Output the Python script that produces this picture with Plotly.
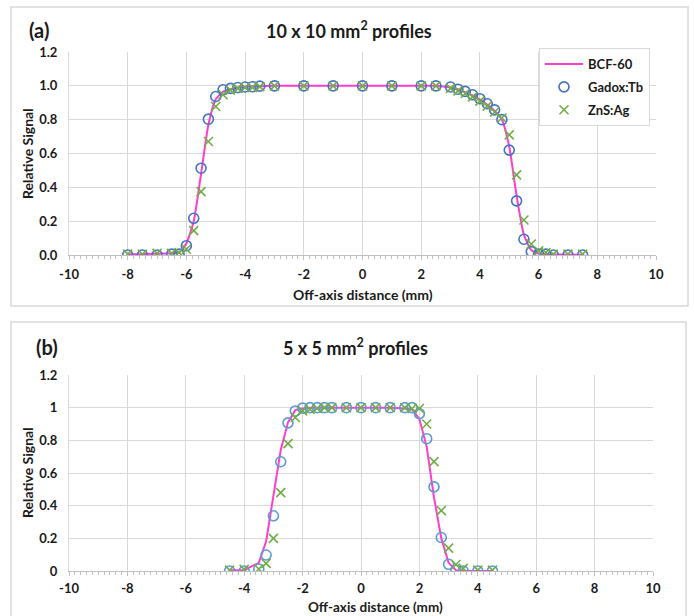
import plotly.graph_objects as go

# ---------------- Panel (a): 10 x 10 mm^2 ----------------
a_bcf_x = [-8, -7.5, -7, -6.5, -6.25, -6, -5.75, -5.5, -5.25, -5, -4.75, -4.5, -4.25, -4, -3.75, -3.5,
           -3, -2, -1, 0, 1, 2, 2.5, 3, 3.25, 3.5, 3.75, 4, 4.25, 4.5, 4.75, 5, 5.25, 5.5, 5.75,
           6, 6.25, 6.5, 7, 7.5]
a_bcf_y = [0.005, 0.005, 0.008, 0.01, 0.015, 0.07, 0.2, 0.48, 0.77, 0.92, 0.965, 0.98, 0.99, 0.995, 0.997, 0.998,
           1.0, 1.0, 1.0, 1.0, 1.0, 1.0, 1.0, 0.99, 0.98, 0.963, 0.943, 0.918, 0.888, 0.853, 0.80, 0.64, 0.35, 0.12, 0.03,
           0.008, 0.005, 0.003, 0.002, 0.002]

a_gadox_x = [-8, -7.5, -7, -6.5, -6.25, -6, -5.75, -5.5, -5.25, -5, -4.75, -4.5, -4.25, -4, -3.75, -3.5,
             -3, -2, -1, 0, 1, 2, 2.5, 3, 3.25, 3.5, 3.75, 4, 4.25, 4.5, 4.75, 5, 5.25, 5.5, 5.75,
             6, 6.25, 6.5, 7, 7.5]
a_gadox_y = [0.0, 0.0, 0.0, 0.005, 0.005, 0.055, 0.217, 0.513, 0.803, 0.937, 0.977, 0.985, 0.99, 0.993, 0.995, 0.998,
             1.0, 1.0, 1.0, 1.0, 1.0, 1.0, 1.0, 0.993, 0.98, 0.967, 0.947, 0.924, 0.894, 0.858, 0.80, 0.62, 0.32, 0.093, 0.02,
             0.005, 0.005, 0.0, 0.0, 0.0]

a_zns_x = [-8, -7.5, -7, -6.5, -6.25, -6, -5.75, -5.5, -5.25, -5, -4.75, -4.5, -4.25, -4, -3.75, -3.5,
           -3, -2, -1, 0, 1, 2, 2.5, 3, 3.25, 3.5, 3.75, 4, 4.25, 4.5, 4.75, 5, 5.25, 5.5, 5.75,
           6, 6.25, 6.5, 7, 7.5]
a_zns_y = [0.005, 0.005, 0.01, 0.01, 0.015, 0.034, 0.144, 0.375, 0.671, 0.878, 0.947, 0.975, 0.985, 0.99, 0.99, 0.995,
           1.0, 1.0, 1.0, 1.0, 1.0, 1.0, 1.0, 0.985, 0.97, 0.955, 0.935, 0.91, 0.88, 0.845, 0.81, 0.71, 0.474, 0.207, 0.065,
           0.025, 0.015, 0.005, 0.005, 0.005]

# ---------------- Panel (b): 5 x 5 mm^2 ----------------
b_bcf_x = [-4.5, -4, -3.5, -3.25, -3, -2.75, -2.5, -2.25, -2, -1.75, -1.5, -1.25, -1, -0.5, 0, 0.5, 1, 1.5, 1.75,
           2, 2.25, 2.5, 2.75, 3, 3.25, 3.5, 4, 4.5]
b_bcf_y = [0.005, 0.005, 0.05, 0.18, 0.46, 0.74, 0.91, 0.985, 0.995, 1.0, 1.0, 1.0, 1.0, 1.0, 1.0, 1.0, 1.0, 0.995, 0.99,
           0.93, 0.76, 0.45, 0.2, 0.05, 0.005, 0.002, 0.0, 0.0]

b_gadox_x = [-4.5, -4, -3.5, -3.25, -3, -2.75, -2.5, -2.25, -2, -1.75, -1.5, -1.25, -1, -0.5, 0, 0.5, 1, 1.5, 1.75,
             2, 2.25, 2.5, 2.75, 3, 3.25, 3.5, 4, 4.5]
b_gadox_y = [0.0, 0.0, 0.012, 0.098, 0.338, 0.669, 0.907, 0.98, 0.997, 1.0, 1.0, 1.0, 1.0, 1.0, 1.0, 1.0, 1.0, 1.0, 1.0,
             0.964, 0.81, 0.515, 0.205, 0.041, 0.006, 0.0, 0.0, 0.0]

b_zns_x = [-4.5, -4, -3.5, -3.25, -3, -2.75, -2.5, -2.25, -2, -1.75, -1.5, -1.25, -1, -0.5, 0, 0.5, 1, 1.5, 1.75,
           2, 2.25, 2.5, 2.75, 3, 3.25, 3.5, 4, 4.5]
b_zns_y = [0.005, 0.01, 0.012, 0.047, 0.2, 0.48, 0.78, 0.94, 0.98, 0.99, 0.995, 1.0, 1.0, 1.0, 1.0, 1.0, 1.0, 1.0, 0.995,
           0.995, 0.9, 0.67, 0.37, 0.14, 0.04, 0.016, 0.005, 0.005]

x_ticks = [-10, -8, -6, -4, -2, 0, 2, 4, 6, 8, 10]
x_tick_labels = ["-10", "-8", "-6", "-4", "-2", "0", "2", "4", "6", "8", "10"]

PINK = "#ff3fcb"
BLUE_A = "#4472c4"
BLUE_B = "#5b9bd5"
GREEN = "#70ad47"
GRID = "#d9d9d9"
FONT = "Lato"
TXT = "#1a1a1a"

W, H = 694, 616
def px(x):
    return x / W
def py(y):
    return 1 - y / H

fig = go.Figure()

fig.add_trace(go.Scatter(x=a_bcf_x, y=a_bcf_y, mode="lines", name="BCF-60",
                         line=dict(color=PINK, width=2, shape="spline", smoothing=0.6),
                         xaxis="x", yaxis="y", legendgroup="g1"))
fig.add_trace(go.Scatter(x=a_gadox_x, y=a_gadox_y, mode="markers", name="Gadox:Tb",
                         marker=dict(symbol="circle-open", size=10, color=BLUE_A, line=dict(width=1.6)),
                         xaxis="x", yaxis="y", legendgroup="g2"))
fig.add_trace(go.Scatter(x=a_zns_x, y=a_zns_y, mode="markers", name="ZnS:Ag",
                         marker=dict(symbol="x-thin-open", size=9, color=GREEN, line=dict(width=1.6, color=GREEN)),
                         xaxis="x", yaxis="y", legendgroup="g3"))

fig.add_trace(go.Scatter(x=b_bcf_x, y=b_bcf_y, mode="lines", name="BCF-60", showlegend=False,
                         line=dict(color=PINK, width=2),
                         xaxis="x2", yaxis="y2"))
fig.add_trace(go.Scatter(x=b_gadox_x, y=b_gadox_y, mode="markers", name="Gadox:Tb", showlegend=False,
                         marker=dict(symbol="circle-open", size=10, color=BLUE_B, line=dict(width=1.6)),
                         xaxis="x2", yaxis="y2"))
fig.add_trace(go.Scatter(x=b_zns_x, y=b_zns_y, mode="markers", name="ZnS:Ag", showlegend=False,
                         marker=dict(symbol="x-thin-open", size=9, color=GREEN, line=dict(width=1.6, color=GREEN)),
                         xaxis="x2", yaxis="y2"))

tickfont = dict(family=FONT, size=13, color=TXT, weight="bold")

def xaxis_cfg(domain, anchor, standoff):
    return dict(domain=domain, anchor=anchor, range=[-10, 10], tickvals=x_ticks, ticktext=x_tick_labels,
                showgrid=True, gridcolor=GRID, gridwidth=1, zeroline=False,
                showline=True, linecolor="#bfbfbf", linewidth=1,
                ticks="outside", ticklen=4, tickcolor="#bfbfbf",
                minor=dict(dtick=0.2, ticks="outside", ticklen=3, tickcolor="#bfbfbf", showgrid=False),
                tickfont=tickfont, ticklabelstandoff=standoff, automargin=False, fixedrange=True)

def yaxis_cfg(domain, anchor, fmt):
    d = dict(domain=domain, anchor=anchor, range=[0, 1.2], dtick=0.2, tick0=0,
             showgrid=True, gridcolor=GRID, gridwidth=1, zeroline=False,
             showline=True, linecolor=GRID, linewidth=1, ticks="",
             tickfont=tickfont, ticklabelstandoff=8, automargin=False, fixedrange=True)
    if fmt:
        d["tickformat"] = fmt
    return d

fig.update_layout(
    width=W, height=H,
    margin=dict(l=0, r=0, t=0, b=0, autoexpand=False),
    paper_bgcolor="white", plot_bgcolor="white",
    font=dict(family=FONT, color=TXT),
    xaxis=xaxis_cfg([px(69), px(656)], "y", 3),
    yaxis=yaxis_cfg([py(255), py(52)], "x", ".1f"),
    xaxis2=xaxis_cfg([px(69), px(653)], "y2", 1),
    yaxis2=yaxis_cfg([py(571), py(375)], "x2", None),
    legend=dict(x=px(539), y=py(48), xanchor="left", yanchor="top",
                bgcolor="white", bordercolor=GRID, borderwidth=1,
                font=dict(family=FONT, size=13, color=TXT, weight="bold"),
                itemwidth=38, tracegroupgap=3, traceorder="grouped"),
    showlegend=True,
)

# Outer chart-area frames
fig.add_shape(type="rect", xref="paper", yref="paper", x0=px(11), x1=px(688), y0=py(306), y1=py(7),
              line=dict(color=GRID, width=1.5), layer="below")
fig.add_shape(type="rect", xref="paper", yref="paper", x0=px(11), x1=px(686), y0=py(630), y1=py(322),
              line=dict(color=GRID, width=1.5), layer="below")

ann = []
title_font = dict(family=FONT, size=18, color=TXT, weight="bold")
label_font = dict(family=FONT, size=20, color=TXT, weight="bold")
axis_font = dict(family=FONT, size=14, color=TXT, weight="bold")
axis_font_b = dict(family=FONT, size=13.5, color=TXT, weight="bold")

ann.append(dict(text="(a)", x=px(27), y=py(30), xanchor="left", yanchor="middle", font=label_font))
ann.append(dict(text="10 x 10 mm<sup>2</sup> profiles", x=px(349), y=py(30), xanchor="center", yanchor="middle", font=title_font))
ann.append(dict(text="Off-axis distance (mm)", x=px(363), y=py(294), xanchor="center", yanchor="middle", font=axis_font))
ann.append(dict(text="Relative Signal", x=px(27), y=py(154), xanchor="center", yanchor="middle", textangle=-90, font=axis_font))

ann.append(dict(text="(b)", x=px(34), y=py(347), xanchor="left", yanchor="middle", font=label_font))
ann.append(dict(text="5 x 5 mm<sup>2</sup> profiles", x=px(355), y=py(347), xanchor="center", yanchor="middle", font=title_font))
ann.append(dict(text="Off-axis distance (mm)", x=px(376), y=py(607), xanchor="center", yanchor="middle", font=axis_font_b))
ann.append(dict(text="Relative Signal", x=px(27), y=py(473), xanchor="center", yanchor="middle", textangle=-90, font=axis_font))

for a in ann:
    a.update(xref="paper", yref="paper", showarrow=False)
fig.update_layout(annotations=ann)

fig.write_html("out.html")
